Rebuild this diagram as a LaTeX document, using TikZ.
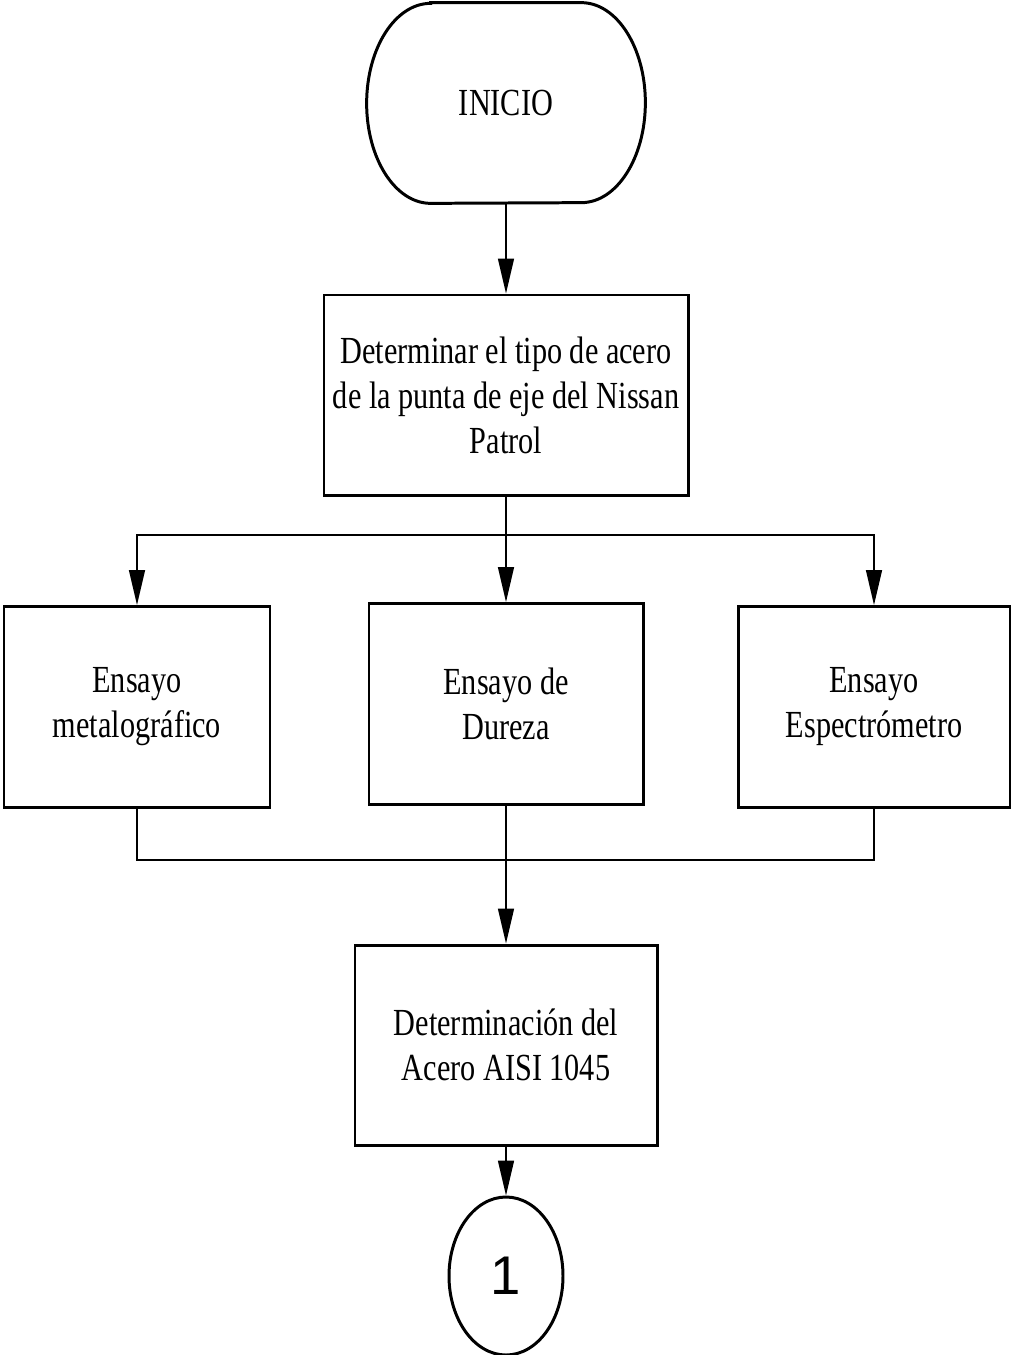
\documentclass[tikz,border=0pt]{standalone}
\usepackage{fontspec}
\setmainfont{Liberation Serif}[FakeStretch=0.79]
\newfontfamily\onefont{Liberation Sans}
\usetikzlibrary{arrows.meta, shapes.geometric}
\begin{document}
\begin{tikzpicture}[
  box/.style={rectangle, draw, line width=1.7pt, align=center, font=\fontsize{21.8}{25.6}\selectfont},
  link/.style={line width=0.85pt},
  arr/.style={link, -{Triangle[width=0.32cm, length=0.7cm]}}
  ]
  \useasboundingbox (0,0) rectangle (20.2,-27.1);
  % Nodes
  \node (ini) [minimum width=5.56cm, minimum height=4cm, align=center, font=\fontsize{21.8}{25.6}\selectfont] at (10.12, -2.06) {INICIO};
  \draw[line width=1.7pt] ([xshift=1.28cm]ini.north west) -- ([xshift=-1.28cm]ini.north east)
    arc[start angle=90, end angle=-90, x radius=1.28cm, y radius=2cm]
    -- ([xshift=1.28cm]ini.south west)
    arc[start angle=270, end angle=90, x radius=1.28cm, y radius=2cm] -- cycle;
  \node (tipo) [box, minimum width=7.28cm, minimum height=4cm] at (10.12, -7.9) {Determinar el tipo de acero\\de la punta de eje del Nissan\\Patrol};
  \node (metal) [box, minimum width=5.32cm, minimum height=4.02cm, text depth=0.2cm] at (2.74, -14.14) {Ensayo\\metalográfico};
  \node (dureza) [box, minimum width=5.48cm, minimum height=4.02cm] at (10.12, -14.08) {Ensayo de\\Dureza};
  \node (espec) [box, minimum width=5.44cm, minimum height=4.02cm, text depth=0.2cm] at (17.48, -14.14) {Ensayo\\Espectrómetro};
  \node (acero) [box, minimum width=6.04cm, minimum height=4cm] at (10.12, -20.9) {Determinación del\\Acero AISI 1045};
  \node (uno) [ellipse, draw, line width=1.7pt, inner sep=0pt, minimum width=2.28cm, minimum height=3.16cm, font=\onefont\fontsize{31}{31}\selectfont] at (10.12, -25.52) {1};
  \coordinate (split) at (10.12, -10.7);
  \coordinate (merge) at (10.12, -17.2);
  % Arrow
  \draw[arr] (ini) -- (tipo);
  \draw[link] (tipo) -- (split);
  \draw[arr] (split) -| (metal.north);
  \draw[arr] (split) -- (dureza);
  \draw[arr] (split) -| (espec.north);
  \draw[link] (metal) |- (merge);
  \draw[link] (espec) |- (merge);
  \draw[link] (dureza) -- (merge);
  \draw[arr] (merge) -- (acero);
  \draw[arr] (acero) -- (uno);
\end{tikzpicture}
\end{document}
